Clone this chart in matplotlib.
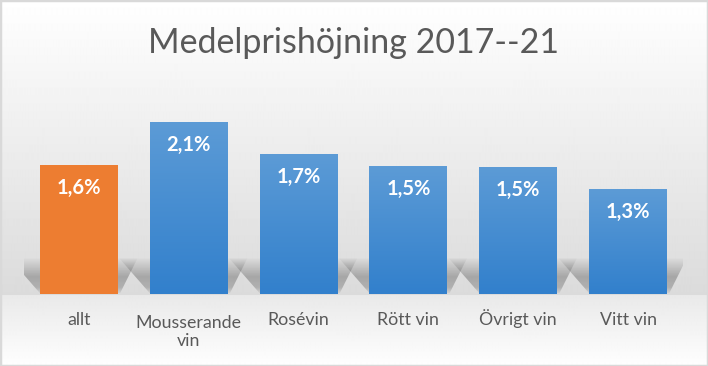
import matplotlib.pyplot as plt
import numpy as np
from matplotlib.colors import LinearSegmentedColormap
from matplotlib.patches import Polygon, Rectangle

# data
categories = ["allt", "Mousserande\nvin", "Rosévin", "Rött vin", "Övrigt vin", "Vitt vin"]
values = [1.57, 2.10, 1.71, 1.56, 1.55, 1.28]
value_labels = ["1,6%", "2,1%", "1,7%", "1,5%", "1,5%", "1,3%"]
highlight = "allt"
title = "Medelprishöjning 2017--21"

plt.rcParams["font.family"] = ["Lato", "DejaVu Sans"]

W, H = 708, 366
fig = plt.figure(figsize=(W / 100, H / 100), dpi=100)

# background gradient (white -> light gray at the floor -> white)
bg = fig.add_axes([0, 0, 1, 1], zorder=-5)
bg.axis("off")
rows = np.arange(H)
upper = np.interp(rows, [0, 120, 294], [255, 240, 219])
lower = np.interp(rows, [295, 365], [233, 254])
col = np.where(rows <= 294, upper, lower) / 255.0
bg.imshow(np.repeat(col[:, None], 4, axis=1), cmap="gray", vmin=0, vmax=1,
          extent=(0, 1, 0, 1), aspect="auto", interpolation="bilinear")
bg.set_xlim(0, 1)
bg.set_ylim(0, 1)

ax = fig.add_axes([24 / W, 72 / H, 659 / W, 205 / H])
ax.set_facecolor("none")
x = np.arange(len(categories))
width = 0.71
ymax = 2.5

colors = ["#ed7d31" if c == highlight else "#4a8fd2" for c in categories]

# soft perspective shadows behind the bars
sh = 0.44
prof = np.interp(np.linspace(0, 1, 60), [0, 0.15, 0.45, 1], [0.06, 0.2, 0.25, 0])
shade = np.zeros((60, 2, 4))
shade[..., 3] = prof[::-1, None]
for xi in x:
    l, r = xi - width / 2, xi + width / 2
    poly = Polygon([(l, 0.01), (r + 0.02, 0.01), (r + 0.18, sh), (l - 0.28, sh)],
                   closed=True, facecolor="none", edgecolor="none")
    ax.add_patch(poly)
    im = ax.imshow(shade, extent=(l - 0.3, r + 0.2, 0.01, sh), aspect="auto",
                   interpolation="bilinear", zorder=1)
    im.set_clip_path(poly)

bars = ax.bar(x, values, width=width, color=colors, zorder=3)

# vertical gradient on the blue bars
blue = LinearSegmentedColormap.from_list("blue", ["#3280cc", "#5c9bd6"])
grad = np.linspace(0, 1, 100)[::-1, None]
for bar, c in zip(bars, categories):
    if c == highlight:
        continue
    im = ax.imshow(grad, cmap=blue, extent=(bar.get_x(), bar.get_x() + bar.get_width(),
                   0, bar.get_height()), aspect="auto", zorder=3.5, interpolation="bilinear")
    im.set_clip_path(bar)

for xi, v, lab in zip(x, values, value_labels):
    ax.text(xi, v - 0.28, lab, ha="center", va="center", color="white",
            fontsize=14.5, fontweight="bold", zorder=5)

ax.set_xlim(-0.5, 5.5)
ax.set_ylim(0, ymax)
ax.set_xticks(x, [""] * len(x))
ax.tick_params(axis="x", length=0)
ax.set_yticks([])
for s in ax.spines.values():
    s.set_visible(False)

# category labels, first-line baselines aligned
fs = 12.8
for xi, cat in zip(x, categories):
    nl = cat.count("\n")
    ax.annotate(cat, (xi, 0), xycoords=("data", "axes fraction"),
                xytext=(0, -22.3 - nl * 1.2 * fs), textcoords="offset points",
                ha="center", va="baseline", fontsize=fs, color="#595959",
                annotation_clip=False)

fig.text(0.5, 1 - 53 / H, title, ha="center", va="baseline", fontsize=24.5, color="#595959")

fig.add_artist(Rectangle((0, 0), 1, 1, transform=fig.transFigure, fill=False,
                         edgecolor="#d9d9d9", linewidth=2.5))

fig.savefig("out.png", dpi=100)
